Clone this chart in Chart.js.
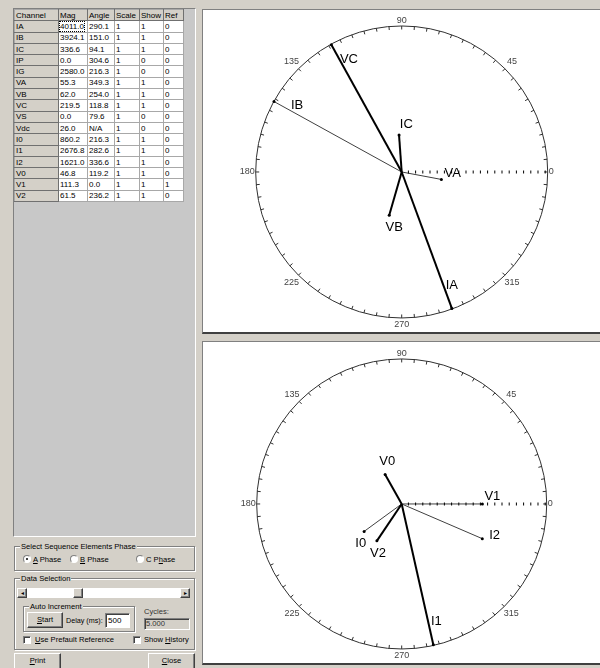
<!DOCTYPE html>
<html lang="en">
  <head>
    <meta charset="UTF-8" />
    <title>Phasor Display</title>
    <script src="https://cdn.jsdelivr.net/npm/chart.js@4.4.0/dist/chart.umd.min.js"></script>
    <style>
      body {
        margin: 0;
        width: 600px;
        height: 668px;
        overflow: hidden;
        position: relative;
        background: #d4d0c8;
        font-family: Arial, "Liberation Sans", sans-serif;
        font-size: 7.6px;
        color: #000;
      }
      .abs { position: absolute; }
      .gridFrame {
        left: 13px; top: 8px; width: 181px; height: 527px;
        background: #c8c8c8;
        border: 1px solid; border-color: #808080 #fff #fff #808080;
      }
      #chanTable {
        position: absolute; left: 14px; top: 9px;
        border-collapse: collapse; table-layout: fixed;
      }
      #chanTable td {
        padding: 0 0 0 1px; height: 10px; line-height: 9px;
        font-size: 8px; white-space: nowrap; overflow: hidden;
        border: 1px solid #a8a8a8; background: #fff;
      }
      #chanTable tr { height: 11.3px; }
      #chanTable td.fixed {
        background: #d4d0c8;
        border-right-color: #707070; border-bottom-color: #707070;
      }
      #chanTable td.focus span { outline: 1px dotted #000; }
      .panel {
        position: absolute; left: 202px; width: 398px; background: #fff;
        border-left: 1px solid #808080; border-top: 1px solid #808080;
        border-bottom: 2px solid #404040;
      }
      .group {
        position: absolute; border: 1px solid #808080;
        box-shadow: 1px 1px 0 #fff, inset 1px 1px 0 #fff;
      }
      .group > .legend {
        position: absolute; top: -5px; left: 5px; padding: 0 1px;
        background: #d4d0c8; line-height: 9px;
      }
      .btn {
        position: absolute; background: #d4d0c8; text-align: center;
        border: 1px solid; border-color: #fff #404040 #404040 #fff;
        box-shadow: inset -1px -1px 0 #808080; box-sizing: border-box;
      }
      .radio {
        position: absolute; width: 8px; height: 8px; border-radius: 50%;
        background: #fff; border: 1px solid; border-color: #808080 #fff #fff #808080;
        box-sizing: border-box;
      }
      .radio.on::after {
        content: ""; position: absolute; left: 2px; top: 2px;
        width: 2px; height: 2px; background: #000; border-radius: 50%;
      }
      .check {
        position: absolute; width: 8px; height: 8px; background: #fff;
        border: 1px solid; border-color: #808080 #fff #fff #808080;
        box-shadow: inset 1px 1px 0 #404040; box-sizing: border-box;
      }
      .field {
        position: absolute; box-sizing: border-box; padding-left: 1px;
        border: 1px solid; border-color: #808080 #fff #fff #808080;
        box-shadow: inset 1px 1px 0 #404040;
      }
    </style>
  </head>
  <body>
    <div class="abs gridFrame"></div>
    <table id="chanTable"></table>

    <div class="group" style="left: 14px; top: 546px; width: 179px; height: 23px">
      <span class="legend">Select Sequence Elements Phase</span>
    </div>
    <div class="radio on" style="left: 23px; top: 555px"></div>
    <span class="abs" style="left: 33px; top: 555px"><u>A</u> Phase</span>
    <div class="radio" style="left: 70px; top: 555px"></div>
    <span class="abs" style="left: 80px; top: 555px"><u>B</u> Phase</span>
    <div class="radio" style="left: 136px; top: 555px"></div>
    <span class="abs" style="left: 146px; top: 555px">C P<u>h</u>ase</span>

    <div class="group" style="left: 14px; top: 578px; width: 179px; height: 70px">
      <span class="legend">Data Selection</span>
    </div>
    <div class="abs" style="left: 17px; top: 588px; width: 173px; height: 10px; background: #fff"></div>
    <div class="btn" style="left: 17px; top: 588px; width: 10px; height: 10px; font-size: 6px; line-height: 8px">&#9666;</div>
    <div class="btn" style="left: 73px; top: 588px; width: 10px; height: 10px"></div>
    <div class="btn" style="left: 180px; top: 588px; width: 10px; height: 10px; font-size: 6px; line-height: 8px">&#9656;</div>

    <div class="group" style="left: 23px; top: 606px; width: 110px; height: 24px">
      <span class="legend">Auto Increment</span>
    </div>
    <div class="btn" style="left: 27px; top: 612px; width: 36px; height: 16px; line-height: 14px"><u>S</u>tart</div>
    <span class="abs" style="left: 66px; top: 616px; font-size: 7.2px">Delay (ms):</span>
    <div class="field" style="left: 105px; top: 613px; width: 25px; height: 15px; background: #fff; line-height: 13px; font-size: 8px; padding-left: 2px">500</div>
    <span class="abs" style="left: 144px; top: 607px; color: #333">Cycles:</span>
    <div class="field" style="left: 144px; top: 618px; width: 46px; height: 12px; line-height: 10px; color: #333">5.000</div>

    <div class="check" style="left: 23px; top: 636px"></div>
    <span class="abs" style="left: 35px; top: 635px"><u>U</u>se Prefault Reference</span>
    <div class="check" style="left: 133px; top: 636px"></div>
    <span class="abs" style="left: 144px; top: 635px">Show <u>H</u>istory</span>

    <div class="btn" style="left: 14px; top: 653px; width: 47px; height: 18px; line-height: 14px"><u>P</u>rint</div>
    <div class="btn" style="left: 148px; top: 653px; width: 47px; height: 18px; line-height: 14px"><u>C</u>lose</div>

    <div class="panel" style="top: 9px; height: 322px">
      <canvas id="phaseChart" width="397" height="322"></canvas>
    </div>
    <div class="panel" style="top: 341px; height: 321px">
      <canvas id="seqChart" width="397" height="321"></canvas>
    </div>

    <script>
      // table values
      const channels = ["IA", "IB", "IC", "IP", "IG", "VA", "VB", "VC", "VS", "Vdc", "I0", "I1", "I2", "V0", "V1", "V2"];
      const mags = [4011.0, 3924.1, 336.6, 0.0, 2580.0, 55.3, 62.0, 219.5, 0.0, 26.0, 860.2, 2676.8, 1621.0, 46.8, 111.3, 61.5];
      const angles = [290.1, 151.0, 94.1, 304.6, 216.3, 349.3, 254.0, 118.8, 79.6, null, 216.3, 282.6, 336.6, 119.2, 0.0, 236.2];
      const scales = [1, 1, 1, 1, 1, 1, 1, 1, 1, 1, 1, 1, 1, 1, 1, 1];
      const shows = [1, 1, 1, 0, 0, 1, 1, 1, 0, 0, 1, 1, 1, 1, 1, 1];
      const refs = [0, 0, 0, 0, 0, 0, 0, 0, 0, 0, 0, 0, 0, 0, 1, 0];

      const phaseChannels = ["IA", "IB", "IC", "IP", "IG", "VA", "VB", "VC", "VS"];
      const seqChannels = ["I0", "I1", "I2", "V0", "V1", "V2"];
      const angleTicks = [0, 45, 90, 135, 180, 225, 270, 315];
      // magnitude that reaches the circle
      const phaseFullScale = { I: 1320, V: 200 };
      const seqFullScale = { I: 2676.8, V: 200 };

      const thinVectors = ["IB", "VA", "I0", "I2", "V1"];

      // fill the grid
      const table = document.getElementById("chanTable");
      const colW = [44, 29, 27, 25, 24, 20];
      let html = "<colgroup>" + colW.map((w) => `<col style="width:${w}px">`).join("") + "</colgroup>";
      html += "<tr>" + ["Channel", "Mag", "Angle", "Scale", "Show", "Ref"].map((h) => `<td class="fixed">${h}</td>`).join("") + "</tr>";
      channels.forEach((c, i) => {
        const ang = angles[i] === null ? "N/A" : angles[i].toFixed(1);
        html += `<tr><td class="fixed">${c}</td>`;
        html += `<td class="${i == 0 ? "focus" : ""}"><span>${mags[i].toFixed(1)}</span></td>`;
        html += `<td>${ang}</td><td>${scales[i]}</td><td>${shows[i]}</td><td>${refs[i]}</td></tr>`;
      });
      table.innerHTML = html;

      const refAngle = angles[refs.indexOf(1)];
      const rad = (d) => (d * Math.PI) / 180;

      const polarFrame = {
        id: "polarFrame",
        beforeDatasetsDraw(chart) {
          const { ctx } = chart;
          const { x, y } = chart.scales;
          const cx = x.getPixelForValue(0);
          const cy = y.getPixelForValue(0);
          const R = x.getPixelForValue(1) - cx;
          ctx.save();
          ctx.strokeStyle = "#303030";
          ctx.lineWidth = 1;
          ctx.beginPath();
          ctx.arc(cx, cy, R, 0, Math.PI * 2);
          ctx.stroke();
          ctx.beginPath();
          for (let a = 0; a < 360; a += 5) {
            const c = Math.cos(rad(a)), s = Math.sin(rad(a));
            ctx.moveTo(cx + R * c, cy - R * s);
            ctx.lineTo(cx + (R - 3.5) * c, cy - (R - 3.5) * s);
          }
          ctx.stroke();
          ctx.fillStyle = "#444";
          ctx.font = "9px Arial, 'Liberation Sans', sans-serif";
          angleTicks.forEach((a) => {
            const c = Math.cos(rad(a)), s = Math.sin(rad(a));
            let tx, ty;
            if (a == 0) {
              ctx.textAlign = "left"; ctx.textBaseline = "middle";
              tx = cx + R + 1; ty = cy;
            } else if (a == 180) {
              ctx.textAlign = "right"; ctx.textBaseline = "middle";
              tx = cx - R - 1; ty = cy;
            } else if (a == 90) {
              ctx.textAlign = "center"; ctx.textBaseline = "bottom";
              tx = cx; ty = cy - R - 1;
            } else if (a == 270) {
              ctx.textAlign = "center"; ctx.textBaseline = "top";
              tx = cx; ty = cy + R + 2;
            } else {
              ctx.textAlign = "center"; ctx.textBaseline = "middle";
              tx = cx + (R + 10) * c; ty = cy - (R + 10) * s;
            }
            ctx.fillText(String(a), tx, ty);
          });
          ctx.restore();
        },
        afterDatasetsDraw(chart) {
          const { ctx } = chart;
          const { x, y } = chart.scales;
          const cx = x.getPixelForValue(0);
          const cy = y.getPixelForValue(0);
          const R = x.getPixelForValue(1) - cx;
          ctx.save();
          ctx.fillStyle = "#000";
          ctx.font = "13px Arial, 'Liberation Sans', sans-serif";
          ctx.textAlign = "center";
          ctx.textBaseline = "middle";
          chart.data.datasets.forEach((ds) => {
            if (!ds.vectorLabel) return;
            const ex = x.getPixelForValue(ds.data[1].x) - cx;
            const ey = y.getPixelForValue(ds.data[1].y) - cy;
            const len = Math.hypot(ex, ey);
            const dx = ex / len, dy = ey / len;
            // long vectors get the name partway along, short ones just past the tip
            const along = len > 0.75 * R ? 0.85 * len : len + 10;
            let px = -dy, py = dx;
            if (px < 0 || (px == 0 && py > 0)) { px = -px; py = -py; }
            ctx.fillText(ds.vectorLabel, cx + dx * along + px * 8, cy + dy * along + py * 8);
          });
          ctx.restore();
        },
      };

      function makePhasorChart(id, list, fullScale, centerX, centerY, radius) {
        const canvas = document.getElementById(id);
        const W = canvas.width, H = canvas.height;
        const datasets = [
          {
            data: [
              { x: 0, y: 0 },
              { x: Math.cos(rad(refAngle)), y: Math.sin(rad(refAngle)) },
            ],
            showLine: true,
            borderColor: "#000",
            borderWidth: 3,
            borderDash: [1, 6.2],
            borderDashOffset: 1,
            pointRadius: 0,
          },
        ];
        list.forEach((ch) => {
          const i = channels.indexOf(ch);
          if (!shows[i] || angles[i] === null) return;
          const pu = Math.min(1, (mags[i] * scales[i]) / fullScale[ch[0]]);
          const thin = thinVectors.includes(ch);
          datasets.push({
            vectorLabel: ch,
            data: [
              { x: 0, y: 0 },
              { x: pu * Math.cos(rad(angles[i])), y: pu * Math.sin(rad(angles[i])) },
            ],
            showLine: true,
            borderColor: thin ? "#404040" : "#000",
            borderWidth: thin ? 1 : 2,
            pointRadius: [0, 1.5],
            pointBackgroundColor: "#000",
            pointBorderWidth: 0,
            order: thin ? 2 : 1,
          });
        });
        return new Chart(canvas, {
          type: "scatter",
          data: { datasets: datasets },
          options: {
            responsive: false,
            animation: false,
            devicePixelRatio: 1,
            layout: { padding: 0 },
            plugins: { legend: { display: false }, tooltip: { enabled: false } },
            scales: {
              x: { type: "linear", display: false, min: -centerX / radius, max: (W - centerX) / radius },
              y: { type: "linear", display: false, min: -(H - centerY) / radius, max: centerY / radius },
            },
          },
          plugins: [polarFrame],
        });
      }

      makePhasorChart("phaseChart", phaseChannels, phaseFullScale, 198.7, 162, 149);
      makePhasorChart("seqChart", seqChannels, seqFullScale, 198.7, 162, 148);
    </script>
  </body>
</html>
